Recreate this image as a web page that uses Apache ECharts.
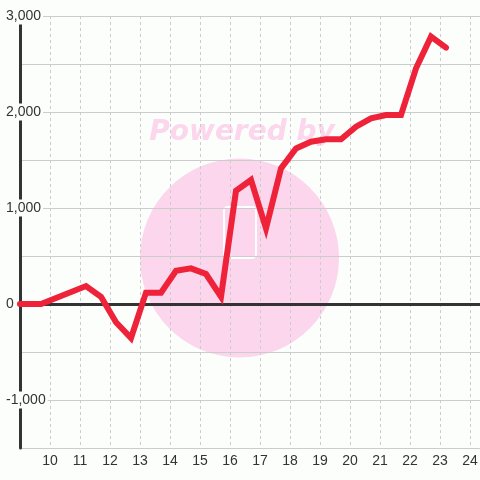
<!DOCTYPE html>
<html>
<head>
<meta charset="utf-8">
<script src="https://cdn.jsdelivr.net/npm/echarts@6/dist/echarts.min.js"></script>
<style>
html,body{margin:0;padding:0;background:#fcfefc;}
#chart{width:480px;height:480px;}
</style>
</head>
<body>
<div id="chart"></div>
<script>
// Data
const xValues = [9, 9.7, 11.2, 11.7, 12.2, 12.7, 13.2, 13.7, 14.2, 14.7, 15.2, 15.7, 16.2, 16.7, 17.2, 17.7, 18.2, 18.7, 19.2, 19.7, 20.2, 20.7, 21.2, 21.7, 22.2, 22.7, 23.2];
const yValues = [0, 0, 187, 76, -190, -354, 118, 118, 347, 371, 312, 76, 1180, 1292, 788, 1413, 1621, 1690, 1715, 1715, 1847, 1934, 1969, 1969, 2455, 2785, 2670];
const xTickLabels = [10, 11, 12, 13, 14, 15, 16, 17, 18, 19, 20, 21, 22, 23, 24];
const yTickLabels = [-1000, 0, 1000, 2000, 3000];
const watermarkText = 'Powered by';

const BG = '#fcfefc';
const chart = echarts.init(document.getElementById('chart'), null, {renderer: 'canvas'});
const seriesData = xValues.map((x, i) => [x, yValues[i]]);

chart.setOption({
  backgroundColor: BG,
  animation: false,
  textStyle: {fontFamily: 'Liberation Sans, Arial, sans-serif'},
  grid: {left: 20, right: 0, top: 16, bottom: 32, containLabel: false, outerBoundsMode: 'none'},
  graphic: [
    {type: 'circle', z: -10, shape: {cx: 239.5, cy: 258, r: 99.5}, style: {fill: '#fbd6ec'}, silent: true},
    {type: 'text', z: -10, x: 242, y: 133, style: {text: watermarkText, fill: '#fbd6ec', font: 'italic bold 28px "DejaVu Sans"', align: 'center', verticalAlign: 'middle'}, silent: true},
    {type: 'rect', z: -9, shape: {x: 224, y: 207, width: 32, height: 51, r: 4}, style: {fill: null, stroke: '#ffffff', lineWidth: 2}, silent: true}
  ],
  xAxis: [
    {
      type: 'value', min: 9, max: 24.333, interval: 1, position: 'bottom',
      axisLine: {show: false, onZero: false},
      axisTick: {show: false},
      axisLabel: {
        color: '#333', fontSize: 14, margin: 6,
        formatter: v => (xTickLabels.indexOf(v) >= 0 ? String(v) : '')
      },
      splitLine: {show: true, lineStyle: {color: '#cccccc', type: [3, 3], width: 1}}
    },
    {
      type: 'value', min: 9, max: 24.333, interval: 1, position: 'bottom',
      axisLine: {show: true, onZero: true, lineStyle: {color: '#333333', width: 3}},
      axisTick: {show: false}, axisLabel: {show: false}, splitLine: {show: false},
      z: 3.5
    }
  ],
  yAxis: {
    type: 'value', min: -1500, max: 3000, interval: 500,
    axisLine: {show: true, onZero: false, lineStyle: {color: '#333333', width: 3}},
    axisTick: {show: false},
    axisLabel: {
      color: '#333', fontSize: 14, margin: 14, align: 'left',
      formatter: v => (yTickLabels.indexOf(v) >= 0 ? '{b|' + v.toLocaleString('en-US') + '}' : ''),
      rich: {b: {color: '#333', fontSize: 14, backgroundColor: BG, padding: [2, 2, 1, 0], fontFamily: 'Liberation Sans, Arial, sans-serif'}}
    },
    splitLine: {show: true, lineStyle: {color: '#cccccc', width: 1}},
    z: 3
  },
  series: [{
    type: 'line', xAxisIndex: 0, data: seriesData, showSymbol: false, symbol: 'none',
    lineStyle: {color: '#ee2238', width: 6, cap: 'round', join: 'miter'},
    z: 4
  }]
});
</script>
</body>
</html>
